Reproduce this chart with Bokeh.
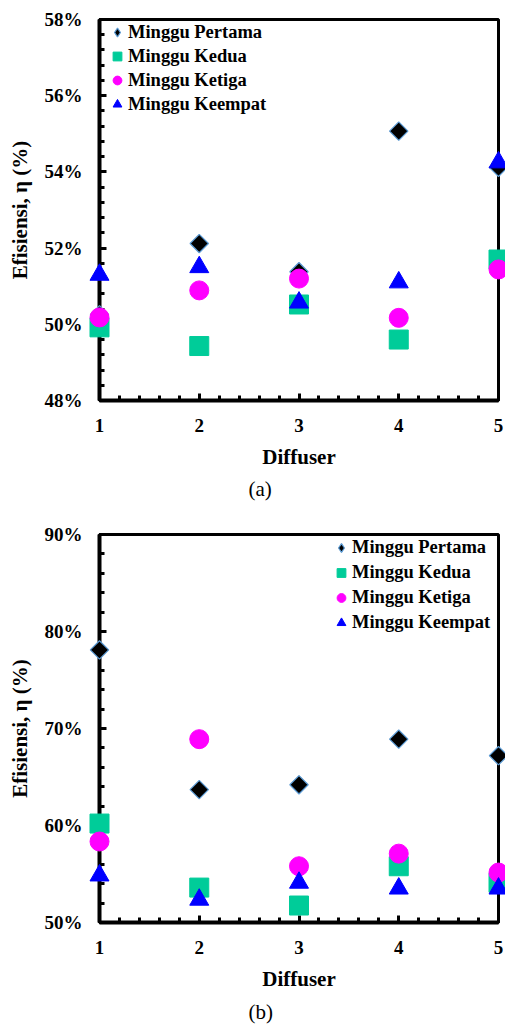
import math
from bokeh.plotting import figure
from bokeh.models import Range1d, FixedTicker, PrintfTickFormatter, Legend, LegendItem, Title
from bokeh.layouts import column
from bokeh.embed import file_html
from bokeh.resources import INLINE

# ---- data ----
diffuser = [1, 2, 3, 4, 5]
series_names = ["Minggu Pertama", "Minggu Kedua", "Minggu Ketiga", "Minggu Keempat"]

a_pertama = [50.25, 52.12, 51.38, 55.07, 54.12]
a_kedua = [49.92, 49.43, 50.52, 49.60, 51.70]
a_ketiga = [50.18, 50.89, 51.20, 50.17, 51.44]
a_keempat = [51.30, 51.50, 50.57, 51.10, 54.25]

b_pertama = [78.1, 63.7, 64.2, 68.9, 67.2]
b_kedua = [60.2, 53.6, 51.75, 55.8, 54.1]
b_ketiga = [58.35, 68.9, 55.8, 57.1, 55.15]
b_keempat = [54.85, 52.35, 54.1, 53.5, 53.5]

a_yticks = [48, 50, 52, 54, 56, 58]
b_yticks = [50, 60, 70, 80, 90]
x_ticks = [1, 2, 3, 4, 5]

FONT = "Liberation Serif"


def make_fig(h, yr, ymaj, ymin_step, ys, tag, top_border, bottom_border,
             legend_h, legend_xy, title_standoff):
    p = figure(width=505, height=h, output_backend="svg", toolbar_location=None,
               x_range=Range1d(1, 5), y_range=Range1d(*yr),
               min_border_left=99, min_border_right=7, min_border_top=top_border,
               min_border_bottom=bottom_border)
    p.grid.visible = False
    p.outline_line_color = "black"
    p.outline_line_width = 3
    p.background_fill_color = "white"
    p.border_fill_color = "white"

    xminor = [1 + 0.2 * i for i in range(21)]
    yminor = []
    v = yr[0]
    while v <= yr[1] + 1e-9:
        yminor.append(round(v, 4))
        v += ymin_step
    p.xaxis.ticker = FixedTicker(ticks=x_ticks, minor_ticks=xminor)
    p.yaxis.ticker = FixedTicker(ticks=ymaj, minor_ticks=yminor)
    p.yaxis.formatter = PrintfTickFormatter(format="%d%%")

    for ax in (p.xaxis, p.yaxis):
        ax.axis_line_width = 4
        ax.axis_line_color = "black"
        ax.major_tick_in = 7
        ax.major_tick_out = 0
        ax.minor_tick_in = 5
        ax.minor_tick_out = 0
        ax.major_tick_line_width = 3
        ax.minor_tick_line_width = 3
        ax.major_tick_line_color = "black"
        ax.minor_tick_line_color = "black"
        ax.major_label_text_font = FONT
        ax.major_label_text_font_size = "19px"
        ax.major_label_text_font_style = "bold"
        ax.major_label_text_color = "black"
        ax.axis_label_text_font = FONT
        ax.axis_label_text_font_size = "21px"
        ax.axis_label_text_font_style = "bold"
        ax.axis_label_text_color = "black"

    p.xaxis.axis_label = "Diffuser"
    p.yaxis.axis_label = "Efisiensi, η (%)"
    p.xaxis.major_label_standoff = 18
    p.xaxis.axis_label_standoff = 10
    p.yaxis.major_label_standoff = 17
    p.yaxis.axis_label_standoff = 10

    r1 = p.scatter(diffuser, ys[0], marker="square", angle=math.pi / 4, size=13,
                   fill_color="black", line_color="#5B9BD5", line_width=1.2)
    r2 = p.scatter(diffuser, ys[1], marker="square", size=19,
                   fill_color="#00CC99", line_color="#00CC99")
    r3 = p.scatter(diffuser, ys[2], marker="circle", size=19,
                   fill_color="#FF00FF", line_color="#FF00FF")
    r4 = p.scatter(diffuser, ys[3], marker="triangle", size=19,
                   fill_color="#0000FF", line_color="#0000FF")
    rs = [r1, r2, r3, r4]
    for r in rs:
        r.level = "overlay"
    # legend-only glyph for the diamond, placed outside the visible (clipped) range
    rleg = p.scatter([-100], [-100], marker="diamond", size=14,
                     fill_color="black", line_color="#5B9BD5", line_width=1.2)
    leg_rs = [rleg, r2, r3, r4]

    legend = Legend(items=[LegendItem(label=n, renderers=[r]) for n, r in zip(series_names, leg_rs)],
                    location=legend_xy, glyph_width=22, glyph_height=legend_h,
                    label_height=legend_h, spacing=0, label_standoff=0, padding=1, margin=0,
                    border_line_alpha=0, background_fill_alpha=0,
                    label_text_font=FONT, label_text_font_size="18.5px",
                    label_text_font_style="bold", label_text_color="black")
    p.add_layout(legend)

    t = Title(text=tag, align="left", offset=149, text_font=FONT,
              text_font_size="21px", text_font_style="normal", text_color="black",
              standoff=title_standoff)
    p.add_layout(t, "below")
    return p


p1 = make_fig(505, (48, 58), a_yticks, 0.4,
              [a_pertama, a_kedua, a_ketiga, a_keempat], "(a)", 19, 105, 24, (6, 283), 7)
p2 = make_fig(523, (50, 90), b_yticks, 2.0,
              [b_pertama, b_kedua, b_ketiga, b_keempat], "(b)", 29, 106, 25, (230, 286), 8)

layout = column(p1, p2, spacing=0)
open("out.html", "w").write(file_html(layout, INLINE))
